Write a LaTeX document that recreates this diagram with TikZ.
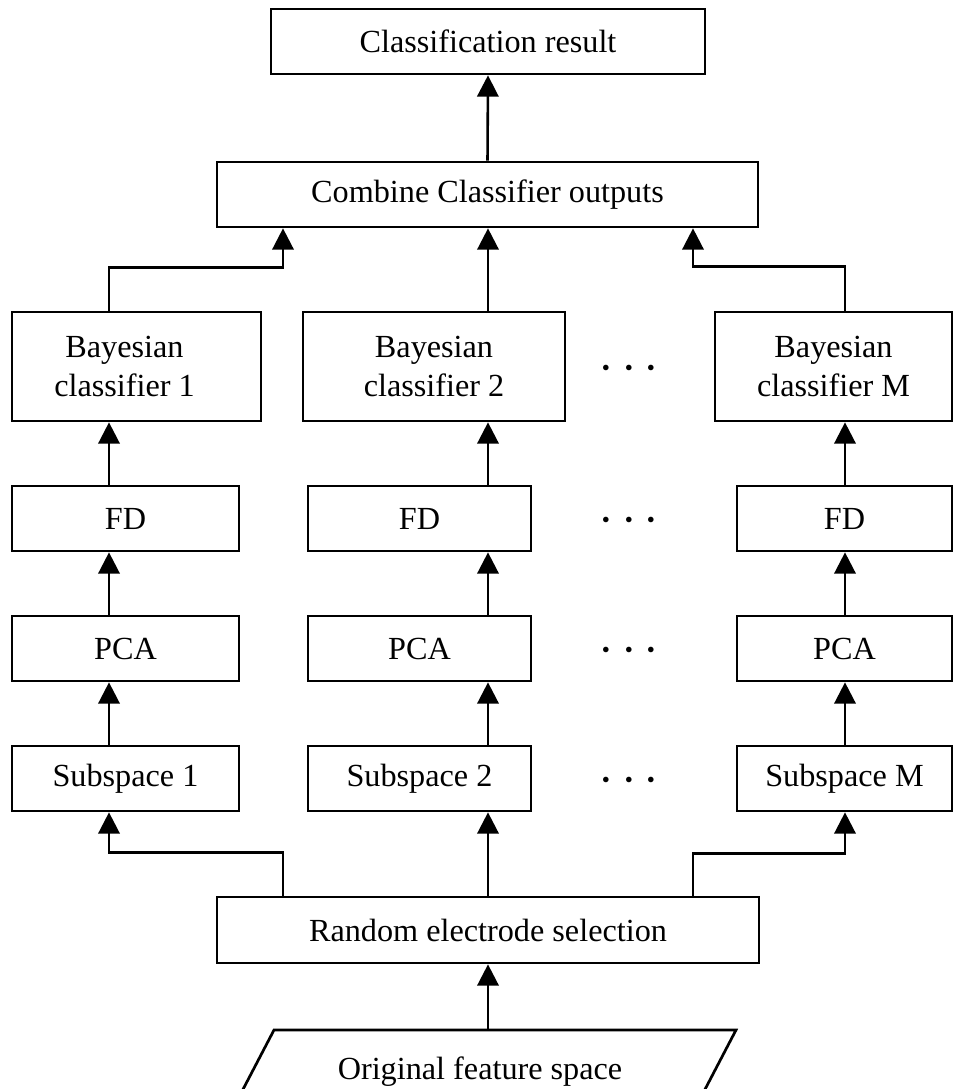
\documentclass[tikz,border=0pt]{standalone}
\usepackage{fontspec}
\setmainfont{Liberation Serif}
\usetikzlibrary{arrows.meta}
\begin{document}
\begin{tikzpicture}[x=0.03cm, y=-0.03cm,
  box/.style={draw, line width=2.3pt, inner sep=0pt, align=center,
    font=\fontsize{27.5}{34}\selectfont, minimum height=1.95cm},
  bigbox/.style={box, minimum height=3.27cm},
  lbl/.style={inner sep=0pt, font=\fontsize{27.5}{34}\selectfont},
  dotlbl/.style={inner sep=0pt, font=\fontsize{40}{40}\selectfont},
  arr/.style={line width=2.2pt, -{Triangle[length=0.64cm, width=0.64cm]}},
  edge/.style={line width=2.3pt, line join=miter}]
\useasboundingbox (0,0) rectangle (954,1089);
\clip (0,0) rectangle (954,1089);

% column axes and the branch points on the wide boxes
\coordinate (c1) at (109,0);
\coordinate (c2) at (488,0);
\coordinate (c3) at (845,0);
\coordinate (bl) at (283,0);
\coordinate (br) at (693,0);

% top stages
\node[box, minimum width=13.02cm] (cls) at (488,41.5) {Classification result};
\node[box, minimum width=16.23cm] (comb) at (487.5,194.5) {Combine Classifier outputs};

% classifiers
\node[bigbox, minimum width=7.47cm] (bay1) at (136.5,366.5)
  {Bayesian\hspace*{0.72cm}\\classifier 1\hspace*{0.72cm}};
\node[bigbox, minimum width=7.86cm] (bay2) at (434,366.5) {Bayesian\\classifier 2};
\node[bigbox, minimum width=7.11cm] (bayM) at (833.5,366.5) {Bayesian\\classifier M};

% FD row
\node[box, minimum width=6.81cm] (fd1) at (125.5,518.5) {FD};
\node[box, minimum width=6.69cm] (fd2) at (419.5,518.5) {FD};
\node[box, minimum width=6.45cm] (fdM) at (844.5,518.5) {FD};

% PCA row
\node[box, minimum width=6.81cm] (pca1) at (125.5,648.5) {PCA};
\node[box, minimum width=6.69cm] (pca2) at (419.5,648.5) {PCA};
\node[box, minimum width=6.45cm] (pcaM) at (844.5,648.5) {PCA};

% subspace row
\node[box, minimum width=6.81cm] (sub1) at (125.5,778.5) {Subspace 1};
\node[box, minimum width=6.69cm] (sub2) at (419.5,778.5) {Subspace 2};
\node[box, minimum width=6.45cm] (subM) at (844.5,778.5) {Subspace M};

% ellipses between column 2 and column M
\foreach \r/\yy in {a/374.5, b/526.5, c/656.5, d/786.5}
  \node[dotlbl] (dots\r) at (629,\yy) {·\hspace{6pt}·\hspace{6pt}·};

% electrode selection and input space
\node[box, minimum width=16.26cm, minimum height=1.98cm] (rand) at (488,930) {Random electrode selection};
\node[lbl] (orig) at (480,1072) {Original feature space};
\draw[edge] (227,1120) -- (274,1030) -- (736,1030) -- (689,1120);
\coordinate (origtop) at (488,1030);

% input to selection
\draw[arr] (origtop) -- (rand.south);

% selection to subspaces
\draw[arr] (rand.north -| bl) -- ++(0,-43) -| (sub1.south -| c1);
\draw[arr] (rand.north -| c2) -- (sub2.south -| c2);
\draw[arr] (rand.north -| br) -- ++(0,-42) -| (subM.south -| c3);

% per-column chains
\foreach \a/\b/\c in {sub1/pca1/c1, pca1/fd1/c1, fd1/bay1/c1,
                      sub2/pca2/c2, pca2/fd2/c2, fd2/bay2/c2,
                      subM/pcaM/c3, pcaM/fdM/c3, fdM/bayM/c3}
  \draw[arr] (\a.north -| \c) -- (\b.south -| \c);

% classifiers to combiner
\draw[arr] (bay1.north -| c1) -- ++(0,-43) -| (comb.south -| bl);
\draw[arr] (bay2.north -| c2) -- (comb.south -| c2);
\draw[arr] (bayM.north -| c3) -- ++(0,-44) -| (comb.south -| br);

% combiner to result
\draw[arr] (comb.north) -- (cls.south);
\end{tikzpicture}
\end{document}
